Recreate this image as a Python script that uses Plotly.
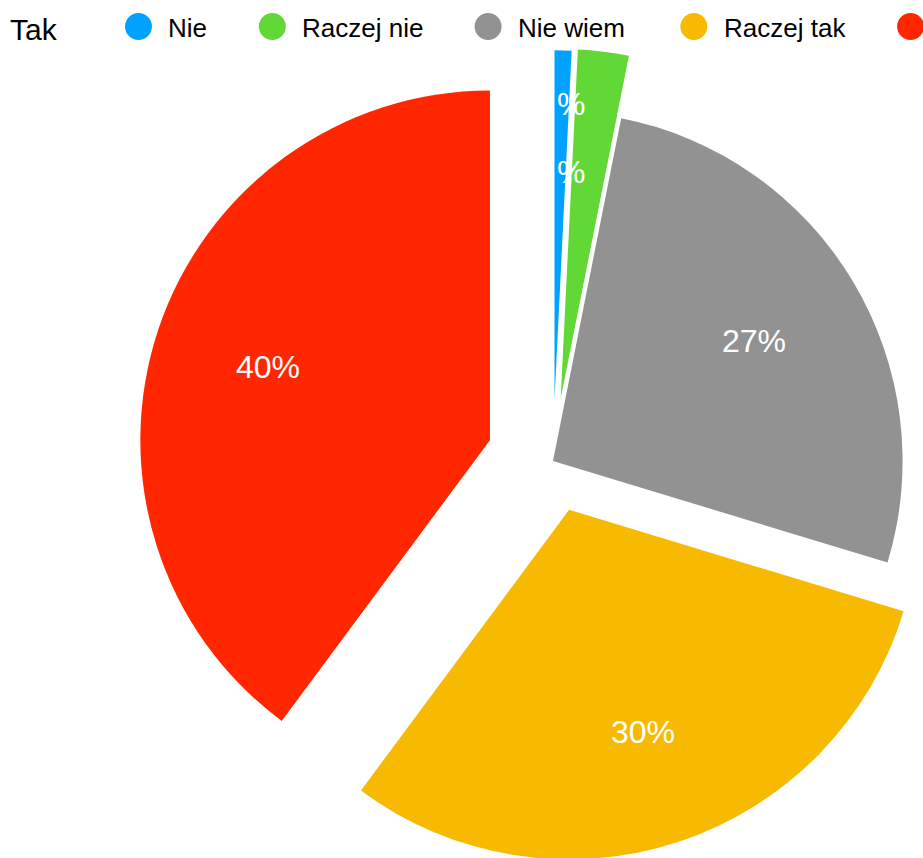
import math
import plotly.graph_objects as go

# ---- data ----
categories = ["Nie", "Raczej nie", "Nie wiem", "Raczej tak", "Tak"]
counts = [1, 3, 34, 39, 51]
colors = ["#00a2ff", "#61d836", "#929292", "#f8ba00", "#ff2600"]
pulls = [0.175, 0.18, 0.0, 0.147, 0.19]
show_label = [False, False, True, True, True]
title_text = "Tak"

FONT = "Liberation Sans, Arial, sans-serif"

# ---- page geometry (screen pixels) ----
BODY = 0
ML, MT, PW, PH = 136.5, 44.5, 833.0, 833.0
W, H = ML + PW + 0.5, MT + PH + 0.5
MAXPULL = max(pulls)
R_PAPER = 0.5 / (1 + MAXPULL)  # pie radius in paper units (square plot area)


def px(sx):
    return (sx - BODY - ML) / PW


def py(sy):
    return 1 - (sy - BODY - MT) / PH


fig = go.Figure()
fig.add_trace(go.Pie(
    labels=categories,
    values=counts,
    sort=False,
    direction="clockwise",
    rotation=0,
    pull=pulls,
    marker=dict(colors=colors, line=dict(width=0)),
    textinfo="none",
    showlegend=False,
    hoverinfo="label+percent",
))

shapes = []
annotations = []

# percentage labels placed along each slice's bisector (derived from the data)
total = sum(counts)
cum = 0
for v, pl, show in zip(counts, pulls, show_label):
    mid = (cum + v / 2) / total * 2 * math.pi
    cum += v
    if not show:
        continue
    d = (pl + 0.67) * R_PAPER
    annotations.append(dict(text=f"{round(100 * v / total)}%", xref="paper", yref="paper",
                            x=0.5 + d * math.sin(mid), y=0.5 + d * math.cos(mid),
                            xanchor="center", yanchor="middle", showarrow=False,
                            font=dict(size=32, color="white", family=FONT)))

# manual legend (large round markers)
legend_marker_x = [138, 272, 488, 694, 911]
legend_text_x = [168, 302, 518, 724, None]
legend_y = 26
RM = 13.5
for name, col, mx, tx in zip(categories, colors, legend_marker_x, legend_text_x):
    shapes.append(dict(type="circle", xref="paper", yref="paper",
                       x0=px(mx - RM), x1=px(mx + RM), y0=py(legend_y + RM), y1=py(legend_y - RM),
                       fillcolor=col, line=dict(width=0)))
    if tx is not None:
        annotations.append(dict(text=name, xref="paper", yref="paper", x=px(tx - 2), y=py(legend_y + 1),
                                xanchor="left", yanchor="middle", showarrow=False,
                                font=dict(size=26, color="#000000", family=FONT)))

annotations.append(dict(text=title_text, xref="paper", yref="paper", x=px(7), y=py(29),
                        xanchor="left", yanchor="middle", showarrow=False,
                        font=dict(size=30, color="#000000", family=FONT)))

# clipped small-slice labels
for sx, sy in [(571, 104), (571, 172)]:
    annotations.append(dict(text="%", xref="paper", yref="paper", x=px(sx), y=py(sy),
                            xanchor="center", yanchor="middle", showarrow=False,
                            font=dict(size=32, color="white", family=FONT)))

fig.update_layout(
    width=W, height=H,
    margin=dict(l=ML, r=0.5, t=MT, b=0.5, pad=0),
    paper_bgcolor="white",
    plot_bgcolor="white",
    shapes=shapes,
    annotations=annotations,
)

fig.write_html(
    "out.html",
    config={"displayModeBar": False},
    post_script="document.body.style.margin='0';document.body.style.overflow='hidden';"
                "document.documentElement.style.overflow='hidden';",
)
